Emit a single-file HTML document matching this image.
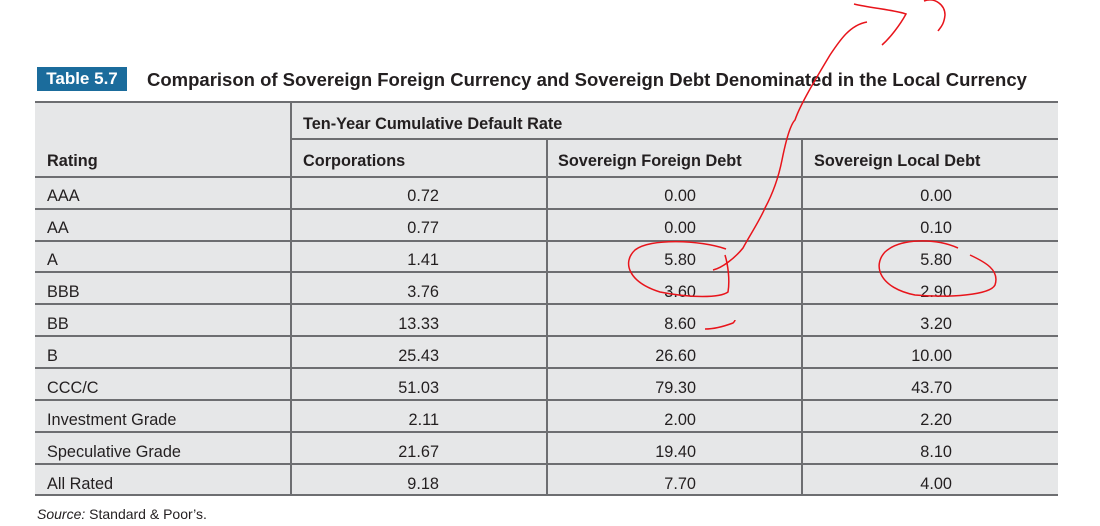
<!DOCTYPE html>
<html><head><meta charset="utf-8"><style>
body{margin:0;width:1100px;height:526px;background:#fff;position:relative;overflow:hidden;font-family:"Liberation Sans",sans-serif;color:#231f20}
.badge{position:absolute;left:37px;top:67px;width:90px;height:24px;background:#1b6c9c;color:#fff;font-weight:bold;font-size:17px;line-height:24px;text-align:center}
.title{position:absolute;left:147px;top:68px;font-size:18.5px;font-weight:bold;line-height:24px;color:#231f20}
.tbl{position:absolute;left:35px;top:101px;width:1023px;height:394px;background:#e6e7e8}
.h{position:absolute;height:2px;background:#6d6e71}
.v{position:absolute;width:2px;background:#6d6e71}
.t{position:absolute;font-size:16.3px;line-height:32px}
.b{font-weight:bold}
.n{text-align:right;width:140px}
.src{position:absolute;left:37px;top:506px;font-size:14px}
</style></head><body>
<div class="badge">Table 5.7</div>
<div class="title">Comparison of Sovereign Foreign Currency and Sovereign Debt Denominated in the Local Currency</div>
<div class="tbl"></div>
<div class="h" style="left:35px;top:101px;width:1023px"></div>
<div class="h" style="left:291px;top:138px;width:767px"></div>
<div class="h" style="left:35px;top:176px;width:1023px"></div>
<div class="h" style="left:35px;top:208px;width:1023px"></div>
<div class="h" style="left:35px;top:240px;width:1023px"></div>
<div class="h" style="left:35px;top:271px;width:1023px"></div>
<div class="h" style="left:35px;top:303px;width:1023px"></div>
<div class="h" style="left:35px;top:335px;width:1023px"></div>
<div class="h" style="left:35px;top:367px;width:1023px"></div>
<div class="h" style="left:35px;top:399px;width:1023px"></div>
<div class="h" style="left:35px;top:431px;width:1023px"></div>
<div class="h" style="left:35px;top:463px;width:1023px"></div>
<div class="h" style="left:35px;top:494px;width:1023px"></div>
<div class="v" style="left:290px;top:101px;height:395px"></div>
<div class="v" style="left:546px;top:139px;height:357px"></div>
<div class="v" style="left:801px;top:139px;height:357px"></div>
<div class="t b" style="left:303px;top:108px">Ten-Year Cumulative Default Rate</div>
<div class="t b" style="left:47px;top:145px">Rating</div>
<div class="t b" style="left:303px;top:145px">Corporations</div>
<div class="t b" style="left:558px;top:145px">Sovereign Foreign Debt</div>
<div class="t b" style="left:814px;top:145px">Sovereign Local Debt</div>
<div id="rows"></div>
<div class="src"><i>Source:</i> Standard &amp; Poor’s.</div>
<script>
var d=[["AAA","0.72","0.00","0.00"],["AA","0.77","0.00","0.10"],["A","1.41","5.80","5.80"],["BBB","3.76","3.60","2.90"],["BB","13.33","8.60","3.20"],["B","25.43","26.60","10.00"],["CCC/C","51.03","79.30","43.70"],["Investment Grade","2.11","2.00","2.20"],["Speculative Grade","21.67","19.40","8.10"],["All Rated","9.18","7.70","4.00"]];
var tops=[178,210,242,274,306,338,370,402,434,466],h="";
d.forEach(function(r,i){var y=tops[i]+2;
h+='<div class="t" style="left:47px;top:'+y+'px">'+r[0]+'</div>';
h+='<div class="t n" style="left:299px;top:'+y+'px">'+r[1]+'</div>';
h+='<div class="t n" style="left:556px;top:'+y+'px">'+r[2]+'</div>';
h+='<div class="t n" style="left:812px;top:'+y+'px">'+r[3]+'</div>';});
document.getElementById('rows').innerHTML=h;
</script>
<svg style="position:absolute;left:0;top:0" width="1100" height="526" fill="none" stroke="#e8141b" stroke-width="1.5">
<path d="M726,249 C700,240 650,238 635,250 C622,262 628,282 660,292 C690,298 720,298 728,292 C730,280 728,265 725,255"/>
<path d="M713,270 C722,268 735,258 743,248 C750,235 760,220 765,208 C772,195 778,180 782,160 C786,140 790,125 795,120 C800,105 815,80 830,55 C840,40 850,25 867,22"/>
<path d="M854,4 C870,8 895,10 906,14 C900,25 890,38 882,45"/>
<path d="M924,1 C935,-3 945,5 945,15 C944,25 940,28 938,31"/>
<path d="M958,248 C935,238 900,238 885,252 C872,266 880,288 915,295 C950,298 990,295 995,285 C1000,270 985,262 970,255"/>
<path d="M705,329 C715,329 725,326 733,323 C734,322 735,321 735,320"/>
</svg>
</body></html>
